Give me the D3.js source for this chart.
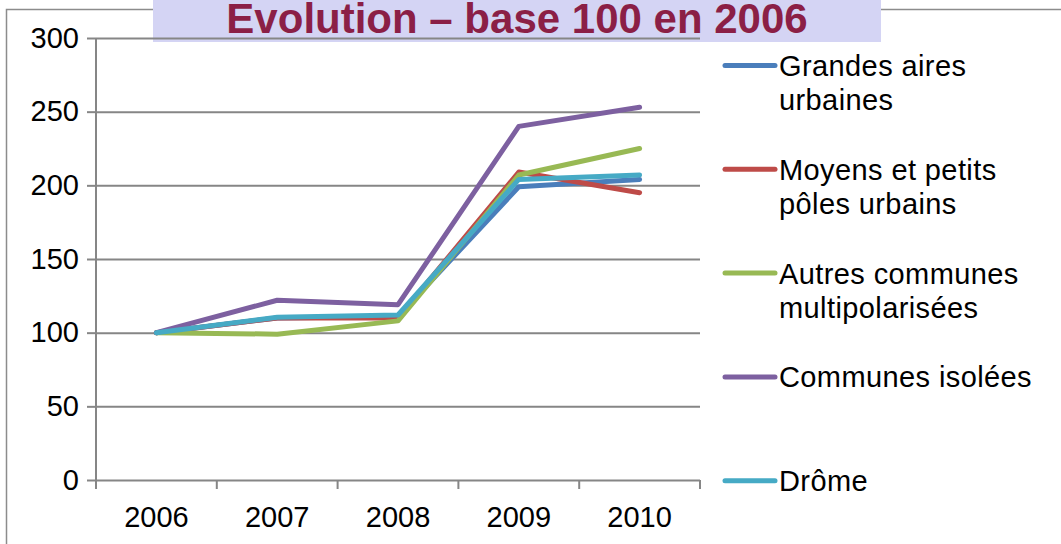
<!DOCTYPE html>
<html>
<head>
<meta charset="utf-8">
<script src="https://cdn.jsdelivr.net/npm/d3@7"></script>
<style>
  body { margin: 0; background: #fff; }
  svg { display: block; font-family: "Liberation Sans", Arial, sans-serif; }
</style>
</head>
<body>
<div id="chart"></div>
<script>
// years on the x axis
var years = ["2006", "2007", "2008", "2009", "2010"];
var yTicks = [0, 50, 100, 150, 200, 250, 300];

// one array per series, base 100 in 2006
var grandesAires = [100, 110, 111, 199, 204];
var moyensPetits = [100, 110, 110, 209, 195];
var autresCommunes = [100, 99, 108, 207, 225];
var communesIsolees = [100, 122, 119, 240, 253];
var drome = [100, 110.5, 112, 204, 207];

var seriesNames = [["Grandes aires", "urbaines"], ["Moyens et petits", "pôles urbains"],
  ["Autres communes", "multipolarisées"], ["Communes isolées"], ["Drôme"]];
var seriesColors = ["#4a7ebb", "#be4b48", "#98b954", "#7d60a0", "#46aac5"];
var seriesValues = [grandesAires, moyensPetits, autresCommunes, communesIsolees, drome];

var w = 1061, h = 544;
var margin = {left: 96, right: 361, top: 38, bottom: 64};

var svg = d3.select("#chart").append("svg")
  .attr("width", w).attr("height", h);

// outer frame (only top and left edges are visible)
svg.append("path")
  .attr("d", "M6.5," + (h + 5) + "V9.5H" + (w + 5))
  .attr("fill", "none").attr("stroke", "#8c8c8c").attr("stroke-width", 1.5);

// title
svg.append("rect")
  .attr("x", 153).attr("y", 0).attr("width", 728).attr("height", 42)
  .attr("fill", "#d4d4f4");
svg.append("text")
  .attr("x", 517).attr("y", 33)
  .attr("text-anchor", "middle")
  .attr("font-size", "42px").attr("font-weight", "bold")
  .attr("fill", "#8b1f46")
  .text("Evolution – base 100 en 2006");

var x = d3.scaleBand().domain(years).range([margin.left, w - margin.right]).padding(0);
var y = d3.scaleLinear().domain([0, 300]).range([h - margin.bottom, margin.top]);

// gridlines + y axis
var yAxis = d3.axisLeft(y).tickValues(yTicks)
  .tickSize(-(w - margin.right - margin.left)).tickPadding(17);
var gy = svg.append("g")
  .attr("transform", "translate(" + margin.left + ",0)")
  .call(yAxis);
gy.select(".domain").remove();
gy.selectAll(".tick line").attr("stroke", "#868686").attr("stroke-width", 2);
gy.selectAll(".tick text").attr("font-size", "29px").attr("fill", "#000")
  .attr("font-family", "Liberation Sans, Arial, sans-serif");
// small outer ticks to the left
gy.selectAll(".tick").append("line")
  .attr("x1", -9).attr("x2", 0).attr("stroke", "#868686").attr("stroke-width", 2);

// y axis line
svg.append("line")
  .attr("x1", margin.left).attr("x2", margin.left)
  .attr("y1", y(300)).attr("y2", y(0) + 9)
  .attr("stroke", "#868686").attr("stroke-width", 2);

// x axis labels
var xAxis = d3.axisBottom(x).tickSize(0).tickPadding(26);
var gx = svg.append("g")
  .attr("transform", "translate(0," + y(0) + ")")
  .call(xAxis);
gx.select(".domain").remove();
gx.selectAll(".tick text").attr("font-size", "29px").attr("fill", "#000")
  .attr("font-family", "Liberation Sans, Arial, sans-serif");

// x tick marks on category boundaries
var bounds = years.map(function(d) { return x(d); }).concat([x.range()[1]]);
svg.append("g").selectAll("line")
  .data(bounds).enter().append("line")
  .attr("x1", function(d) { return d; }).attr("x2", function(d) { return d; })
  .attr("y1", y(0)).attr("y2", y(0) + 9)
  .attr("stroke", "#868686").attr("stroke-width", 2);

// series lines
var line = d3.line()
  .x(function(d, i) { return x(years[i]) + x.bandwidth() / 2; })
  .y(function(d) { return y(d); });

svg.append("g").selectAll("path")
  .data(seriesValues).enter().append("path")
  .attr("d", line)
  .attr("fill", "none")
  .attr("stroke", function(d, i) { return seriesColors[i]; })
  .attr("stroke-width", 5)
  .attr("stroke-linejoin", "round")
  .attr("stroke-linecap", "round");

// legend
var legend = svg.append("g").attr("class", "legend");
var item = legend.selectAll("g")
  .data(seriesNames).enter().append("g")
  .attr("transform", function(d, i) { return "translate(725," + (65.5 + i * 103.8) + ")"; });
item.append("line")
  .attr("x1", 0).attr("x2", 50).attr("y1", 0).attr("y2", 0)
  .attr("stroke", function(d, i) { return seriesColors[i]; })
  .attr("stroke-width", 5).attr("stroke-linecap", "round");
item.append("text")
  .attr("x", 54).attr("y", 10.5)
  .attr("font-size", "29px").attr("letter-spacing", "0.4px")
  .selectAll("tspan")
  .data(function(d) { return d; }).enter().append("tspan")
  .attr("x", 54)
  .attr("dy", function(d, i) { return i == 0 ? 0 : 34; })
  .text(function(d) { return d; });
</script>
</body>
</html>
